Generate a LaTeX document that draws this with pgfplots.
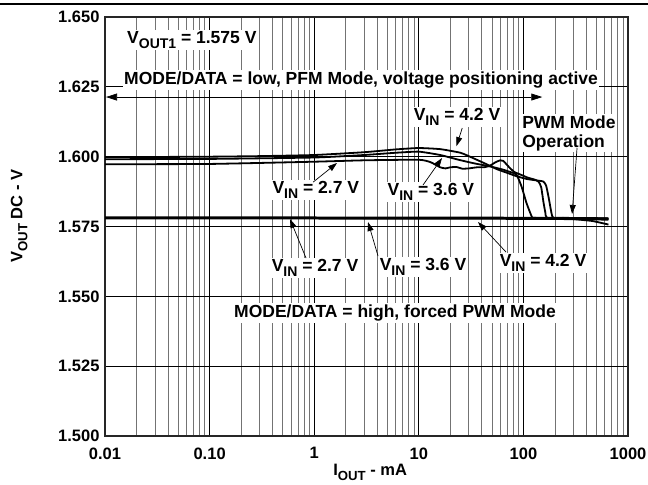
\documentclass[border=0pt]{standalone}
\usepackage{fontspec}
\setmainfont{Liberation Sans}
\usepackage{graphicx}
\usepackage{pgfplots}
\pgfplotsset{compat=1.18}
\usetikzlibrary{arrows.meta}

% subscripts as in the datasheet: large and only slightly lowered
\newcommand{\sub}[1]{\raisebox{-0.3em}{\scalebox{0.8}{#1}}}

\begin{document}
\begin{tikzpicture}[
    lbl/.style={fill=white, inner sep=1.5pt, font=\fontsize{17.5}{19}\selectfont\bfseries},
    pt/.style={-{Triangle[length=9pt,width=6pt]}, line width=0.7pt},
  ]
\begin{axis}[
    xmode=log, scale only axis, width=523pt, height=419pt,
    xmin=0.01, xmax=1000, ymin=1.5, ymax=1.65,
    xtick={0.01,0.1,1,10,100,1000},
    xticklabels={0.01,0.10,1,10,100,1000},
    ytick={1.5,1.525,1.55,1.575,1.6,1.625,1.65},
    yticklabels={1.500,1.525,1.550,1.575,1.600,1.625,1.650},
    minor y tick num=0,
    grid=both,
    major grid style={black, line width=0.8pt},
    minor grid style={black!55, line width=0.8pt},
    axis line style={black!85, line width=1.5pt},
    major tick length=0pt, minor tick length=0pt,
    ticklabel style={font=\fontsize{16.5}{18}\selectfont\bfseries},
    xticklabel style={yshift=-8pt},
    yticklabel style={xshift=-2pt},
    xlabel={I\sub{OUT} - mA},
    ylabel={V\sub{OUT} DC - V},
    label style={font=\fontsize{16.5}{18}\selectfont\bfseries},
    xlabel style={at={(rel axis cs:0.507,-0.066)}, anchor=north, inner sep=0pt},
    ylabel style={at={(rel axis cs:-0.164,0.525)}, anchor=center},
    clip=false,
  ]
% forced PWM mode
\addplot[black, line width=1.6pt] coordinates {(0.01,1.5783) (1,1.5783) (100,1.5782) (300,1.5781) (650,1.5780)};
\addplot[black, line width=1.6pt] coordinates {(0.01,1.5780) (1,1.5780) (100,1.5779) (300,1.5778) (650,1.5777)};
\addplot[black, line width=1.6pt] coordinates {(0.01,1.5778) (1,1.5778) (100,1.5777) (300,1.5776) (650,1.5774)};

% PFM mode, VIN = 4.2 V
\addplot[black, line width=1.8pt, smooth, tension=0.3] coordinates {
 (0.01,1.5999) (0.03,1.5999) (0.1,1.6000) (0.3,1.6002) (1,1.6006) (3,1.6016)
 (6,1.6026) (10,1.6031) (16,1.6027) (25,1.6014) (33,1.5995) (45,1.5972)
 (56,1.5955) (70,1.5942) (86,1.5930) (108,1.5920) (134,1.5915) (155,1.5911)
 (165,1.5896) (175,1.5850) (185,1.5800) (193,1.5781) (250,1.5781) (400,1.5780) (650,1.5779)};
% PFM mode, VIN = 3.6 V
\addplot[black, line width=1.8pt, smooth, tension=0.3] coordinates {
 (0.01,1.5991) (0.1,1.5992) (1,1.5997) (3,1.6006) (6,1.6014) (10,1.6018)
 (16,1.6006) (24,1.5989) (33,1.5977) (48,1.5965) (62,1.5955) (75,1.5945)
 (86,1.5935) (96,1.5893) (107,1.5834) (120,1.5786) (127,1.5781) (250,1.5780) (650,1.5777)};
% PFM mode, VIN = 2.7 V
\addplot[black, line width=1.8pt, smooth, tension=0.3] coordinates {
 (0.01,1.5973) (0.1,1.5974) (1,1.5982) (3,1.5987) (10,1.5989) (13,1.5980)
 (16,1.5962) (18,1.5958) (20,1.5962) (23,1.5963) (26,1.5957) (30,1.5958)
 (36,1.5962) (42,1.5962) (48,1.5968) (54,1.5980) (60,1.5987) (64,1.5985)
 (68,1.5975) (74,1.5960) (82,1.5945) (95,1.5935) (110,1.5925) (128,1.5918)
 (140,1.5910) (148,1.5890) (155,1.5840) (162,1.5800) (168,1.5781) (250,1.5779)
 (450,1.5770) (650,1.5757)};

% annotations
\node[lbl] at (rel axis cs:0.166,0.945) {V\sub{OUT1} = 1.575 V};
\draw[{Triangle[length=11pt,width=7pt]}-{Triangle[length=11pt,width=7pt]}, line width=0.7pt]
  (rel axis cs:0.002,0.809) -- (rel axis cs:0.836,0.809);
\node[lbl] at (rel axis cs:0.4895,0.8496) {MODE/DATA = low, PFM Mode, voltage positioning active};

\node[lbl] at (rel axis cs:0.673,0.761) {V\sub{IN} = 4.2 V};
\draw[pt] (rel axis cs:0.683,0.735) -- (rel axis cs:0.672,0.692);

\node[lbl, align=left] at (rel axis cs:0.887,0.723) {PWM Mode\\Operation};
\draw[pt] (rel axis cs:0.9025,0.687) -- (rel axis cs:0.893,0.530);

\node[lbl] at (rel axis cs:0.403,0.587) {V\sub{IN} = 2.7 V};
\draw[pt] (rel axis cs:0.398,0.606) -- (rel axis cs:0.4436,0.6516);

\node[lbl] at (rel axis cs:0.623,0.582) {V\sub{IN} = 3.6 V};
\draw[pt] (rel axis cs:0.608,0.599) -- (rel axis cs:0.6444,0.6635);

\node[lbl] at (rel axis cs:0.4015,0.401) {V\sub{IN} = 2.7 V};
\draw[pt] (rel axis cs:0.3843,0.4248) -- (rel axis cs:0.3537,0.5179);

\node[lbl] at (rel axis cs:0.608,0.403) {V\sub{IN} = 3.6 V};
\draw[pt] (rel axis cs:0.522,0.4296) -- (rel axis cs:0.5029,0.5107);

\node[lbl] at (rel axis cs:0.8375,0.413) {V\sub{IN} = 4.2 V};
\draw[pt] (rel axis cs:0.7667,0.4391) -- (rel axis cs:0.7132,0.5107);

\node[lbl] at (rel axis cs:0.5545,0.2936) {MODE/DATA = high, forced PWM Mode};

% page rule and picture frame
\draw[line width=1.2pt] (rel axis cs:-0.2008,1.031) -- (rel axis cs:1.0382,1.031);
\coordinate (bbll) at (rel axis cs:-0.2008,-0.1146);
\coordinate (bbur) at (rel axis cs:1.0382,1.0406);
\end{axis}
\pgfresetboundingbox
\useasboundingbox (bbll) rectangle (bbur);
\end{tikzpicture}
\end{document}
